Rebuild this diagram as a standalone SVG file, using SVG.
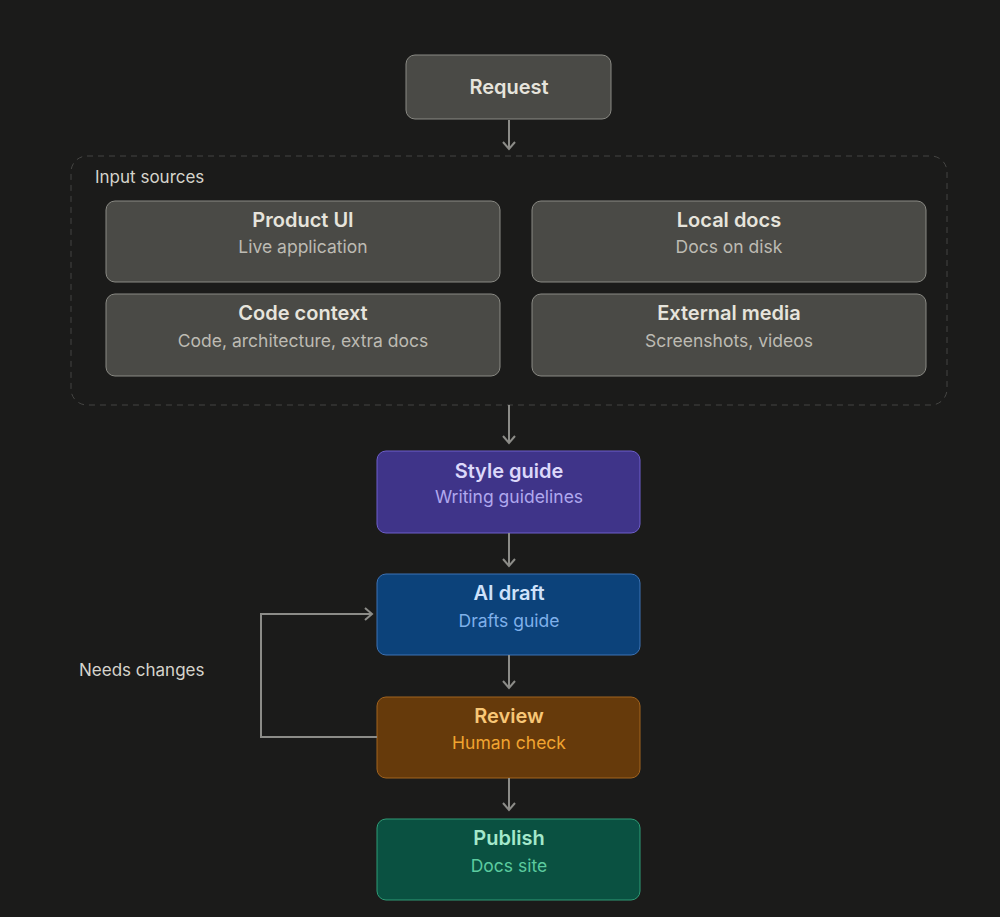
<svg xmlns="http://www.w3.org/2000/svg" width="1000" height="917" viewBox="0 0 1000 917">
<defs>
<style>
text{font-family:Inter,"Liberation Sans",sans-serif;text-anchor:middle}
.t{font-size:20px;font-weight:600}
.s{font-size:17.5px}
.g rect{fill:#4a4a46;stroke:#8a8a84;stroke-width:1}
.g .t{fill:#e6e4dc}
.g .s{fill:#bdbbb3}
.c{fill:none;stroke:#8c8c88;stroke-width:2}
</style>
<marker id="ah" markerWidth="14" markerHeight="14" refX="10" refY="7" orient="auto" markerUnits="userSpaceOnUse">
<path d="M3,1 L10,7 L3,13" fill="none" stroke="#8c8c88" stroke-width="2"/>
</marker>
</defs>
<rect width="1000" height="917" fill="#1b1b1a"/>
<g id="input-sources">
<rect x="71" y="156" width="876" height="249" rx="16" fill="none" stroke="#454543" stroke-width="1" stroke-dasharray="6 5"/>
<text x="95" y="183" style="text-anchor:start;font-size:17px;fill:#d6d4cc">Input sources</text>
</g>
<g id="request" class="g"><rect x="406" y="55" width="205" height="64" rx="9"/><text class="t" x="509" y="94">Request</text></g>
<g id="product-ui" class="g"><rect x="106" y="201" width="394" height="81" rx="9"/><text class="t" x="303" y="227">Product UI</text><text class="s" x="303" y="253">Live application</text></g>
<g id="local-docs" class="g"><rect x="532" y="201" width="394" height="81" rx="9"/><text class="t" x="729" y="227">Local docs</text><text class="s" x="729" y="253">Docs on disk</text></g>
<g id="code-context" class="g"><rect x="106" y="294" width="394" height="82" rx="9"/><text class="t" x="303" y="320">Code context</text><text class="s" x="303" y="347">Code, architecture, extra docs</text></g>
<g id="external-media" class="g"><rect x="532" y="294" width="394" height="82" rx="9"/><text class="t" x="729" y="320">External media</text><text class="s" x="729" y="347">Screenshots, videos</text></g>
<g id="style-guide"><rect x="377" y="451" width="263" height="82" rx="9" fill="#3f3489" stroke="#6e5fcb"/><text class="t" x="509" y="478" fill="#dcd8fa">Style guide</text><text class="s" x="509" y="503" fill="#b0a8ee">Writing guidelines</text></g>
<g id="ai-draft"><rect x="377" y="574" width="263" height="81" rx="9" fill="#0c427a" stroke="#3d72b4"/><text class="t" x="509" y="600" fill="#cfe2fb">AI draft</text><text class="s" x="509" y="627" fill="#7fb0ea">Drafts guide</text></g>
<g id="review"><rect x="377" y="697" width="263" height="81" rx="9" fill="#663a0b" stroke="#a2641f"/><text class="t" x="509" y="723" fill="#f8c777">Review</text><text class="s" x="509" y="749" fill="#f1a430">Human check</text></g>
<g id="publish"><rect x="377" y="819" width="263" height="81" rx="9" fill="#0a5141" stroke="#2f9c76"/><text class="t" x="509" y="845" fill="#a4e8cb">Publish</text><text class="s" x="509" y="872" fill="#5ccb9f">Docs site</text></g>
<g id="connectors">
<line class="c" x1="509" y1="120" x2="509" y2="149" marker-end="url(#ah)"/>
<line class="c" x1="509" y1="405" x2="509" y2="443" marker-end="url(#ah)"/>
<line class="c" x1="509" y1="533" x2="509" y2="566" marker-end="url(#ah)"/>
<line class="c" x1="509" y1="655" x2="509" y2="688" marker-end="url(#ah)"/>
<line class="c" x1="509" y1="778" x2="509" y2="810" marker-end="url(#ah)"/>
<polyline class="c" points="377,737 261,737 261,614 372,614" marker-end="url(#ah)"/>
<text x="79" y="676" style="text-anchor:start;font-size:17px;fill:#d6d4cc">Needs changes</text>
</g>
</svg>
